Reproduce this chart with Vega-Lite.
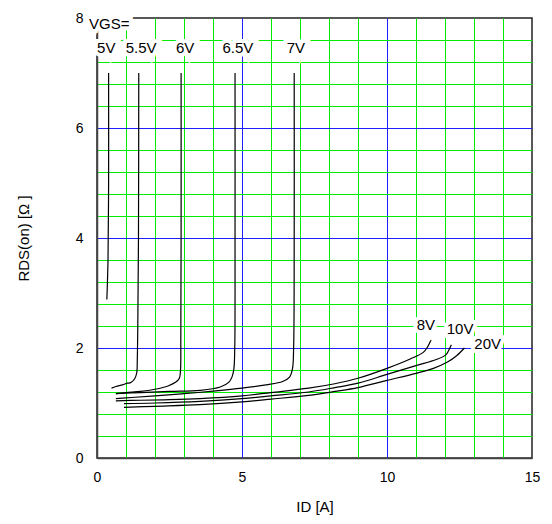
{
  "$schema": "https://vega.github.io/schema/vega-lite/v6.json",
  "width": 435,
  "height": 440,
  "autosize": "none",
  "padding": {"left": 97, "top": 18, "right": 20, "bottom": 66},
  "background": "white",
  "config": {
    "font": "Liberation Sans",
    "view": {"stroke": "#222222", "strokeWidth": 1.5},
    "axis": {
      "labelFont": "Liberation Sans",
      "titleFont": "Liberation Sans",
      "labelColor": "#000000",
      "titleColor": "#000000",
      "labelFontSize": 14,
      "titleFontSize": 15,
      "titleFontWeight": "normal",
      "domainColor": "#444444",
      "domainWidth": 1.5,
      "ticks": false,
      "grid": true,
      "gridWidth": 1,
      "tickCount": 100,
      "labelFlush": false,
      "labelOverlap": false
    }
  },
  "resolve": {"axis": {"x": "independent", "y": "independent"}},
  "datasets": {
    "curves": [
      {"g": "5V", "o": 1, "id": 0.40, "r": 7.0},
      {"g": "5V", "o": 2, "id": 0.40, "r": 5.0},
      {"g": "5V", "o": 3, "id": 0.38, "r": 3.6},
      {"g": "5V", "o": 4, "id": 0.36, "r": 3.2},
      {"g": "5V", "o": 5, "id": 0.34, "r": 2.88},

      {"g": "5.5V", "o": 1, "id": 1.44, "r": 7.0},
      {"g": "5.5V", "o": 2, "id": 1.43, "r": 4.0},
      {"g": "5.5V", "o": 3, "id": 1.41, "r": 2.6},
      {"g": "5.5V", "o": 4, "id": 1.39, "r": 1.8},
      {"g": "5.5V", "o": 5, "id": 1.37, "r": 1.55},
      {"g": "5.5V", "o": 6, "id": 1.30, "r": 1.44},
      {"g": "5.5V", "o": 7, "id": 1.16, "r": 1.37},
      {"g": "5.5V", "o": 8, "id": 1.05, "r": 1.36},
      {"g": "5.5V", "o": 9, "id": 0.88, "r": 1.33},
      {"g": "5.5V", "o": 10, "id": 0.65, "r": 1.30},
      {"g": "5.5V", "o": 11, "id": 0.50, "r": 1.27},

      {"g": "6V", "o": 1, "id": 2.90, "r": 7.0},
      {"g": "6V", "o": 2, "id": 2.90, "r": 4.0},
      {"g": "6V", "o": 3, "id": 2.89, "r": 2.2},
      {"g": "6V", "o": 4, "id": 2.88, "r": 1.6},
      {"g": "6V", "o": 5, "id": 2.84, "r": 1.45},
      {"g": "6V", "o": 6, "id": 2.72, "r": 1.38},
      {"g": "6V", "o": 7, "id": 2.45, "r": 1.31},
      {"g": "6V", "o": 8, "id": 2.0, "r": 1.25},
      {"g": "6V", "o": 9, "id": 1.5, "r": 1.21},
      {"g": "6V", "o": 10, "id": 1.0, "r": 1.19},
      {"g": "6V", "o": 11, "id": 0.65, "r": 1.17},

      {"g": "6.5V", "o": 1, "id": 4.76, "r": 7.0},
      {"g": "6.5V", "o": 2, "id": 4.76, "r": 4.0},
      {"g": "6.5V", "o": 3, "id": 4.75, "r": 2.0},
      {"g": "6.5V", "o": 4, "id": 4.72, "r": 1.62},
      {"g": "6.5V", "o": 5, "id": 4.66, "r": 1.48},
      {"g": "6.5V", "o": 6, "id": 4.55, "r": 1.38},
      {"g": "6.5V", "o": 7, "id": 4.25, "r": 1.29},
      {"g": "6.5V", "o": 8, "id": 3.55, "r": 1.23},
      {"g": "6.5V", "o": 9, "id": 2.5, "r": 1.21},
      {"g": "6.5V", "o": 10, "id": 1.5, "r": 1.19},
      {"g": "6.5V", "o": 11, "id": 0.65, "r": 1.17},

      {"g": "7V", "o": 1, "id": 6.80, "r": 7.0},
      {"g": "7V", "o": 2, "id": 6.80, "r": 4.0},
      {"g": "7V", "o": 3, "id": 6.78, "r": 2.0},
      {"g": "7V", "o": 4, "id": 6.74, "r": 1.62},
      {"g": "7V", "o": 5, "id": 6.64, "r": 1.47},
      {"g": "7V", "o": 6, "id": 6.40, "r": 1.39},
      {"g": "7V", "o": 7, "id": 5.83, "r": 1.33},
      {"g": "7V", "o": 8, "id": 5.0, "r": 1.27},
      {"g": "7V", "o": 9, "id": 4.1, "r": 1.22},
      {"g": "7V", "o": 10, "id": 3.0, "r": 1.17},
      {"g": "7V", "o": 11, "id": 2.0, "r": 1.13},
      {"g": "7V", "o": 12, "id": 1.2, "r": 1.10},
      {"g": "7V", "o": 13, "id": 0.65, "r": 1.08},

      {"g": "8V", "o": 1, "id": 0.65, "r": 1.04},
      {"g": "8V", "o": 2, "id": 1.5, "r": 1.05},
      {"g": "8V", "o": 3, "id": 2.5, "r": 1.06},
      {"g": "8V", "o": 4, "id": 3.55, "r": 1.08},
      {"g": "8V", "o": 5, "id": 5.0, "r": 1.13},
      {"g": "8V", "o": 6, "id": 6.0, "r": 1.19},
      {"g": "8V", "o": 7, "id": 7.3, "r": 1.27},
      {"g": "8V", "o": 8, "id": 8.2, "r": 1.35},
      {"g": "8V", "o": 9, "id": 9.0, "r": 1.45},
      {"g": "8V", "o": 10, "id": 10.0, "r": 1.63},
      {"g": "8V", "o": 11, "id": 10.8, "r": 1.80},
      {"g": "8V", "o": 12, "id": 11.25, "r": 1.92},
      {"g": "8V", "o": 13, "id": 11.4, "r": 2.02},
      {"g": "8V", "o": 14, "id": 11.52, "r": 2.15},

      {"g": "10V", "o": 1, "id": 0.93, "r": 0.99},
      {"g": "10V", "o": 2, "id": 2.0, "r": 1.00},
      {"g": "10V", "o": 3, "id": 3.55, "r": 1.03},
      {"g": "10V", "o": 4, "id": 5.0, "r": 1.08},
      {"g": "10V", "o": 5, "id": 6.0, "r": 1.13},
      {"g": "10V", "o": 6, "id": 7.3, "r": 1.20},
      {"g": "10V", "o": 7, "id": 8.2, "r": 1.28},
      {"g": "10V", "o": 8, "id": 9.0, "r": 1.36},
      {"g": "10V", "o": 9, "id": 10.0, "r": 1.52},
      {"g": "10V", "o": 10, "id": 11.0, "r": 1.68},
      {"g": "10V", "o": 11, "id": 11.7, "r": 1.79},
      {"g": "10V", "o": 12, "id": 12.02, "r": 1.87},
      {"g": "10V", "o": 13, "id": 12.12, "r": 1.95},
      {"g": "10V", "o": 14, "id": 12.22, "r": 2.06},

      {"g": "20V", "o": 1, "id": 0.93, "r": 0.92},
      {"g": "20V", "o": 2, "id": 2.0, "r": 0.94},
      {"g": "20V", "o": 3, "id": 3.55, "r": 0.97},
      {"g": "20V", "o": 4, "id": 5.0, "r": 1.02},
      {"g": "20V", "o": 5, "id": 6.0, "r": 1.07},
      {"g": "20V", "o": 6, "id": 7.3, "r": 1.14},
      {"g": "20V", "o": 7, "id": 8.2, "r": 1.21},
      {"g": "20V", "o": 8, "id": 9.0, "r": 1.28},
      {"g": "20V", "o": 9, "id": 10.0, "r": 1.41},
      {"g": "20V", "o": 10, "id": 11.0, "r": 1.54},
      {"g": "20V", "o": 11, "id": 11.6, "r": 1.63},
      {"g": "20V", "o": 12, "id": 12.1, "r": 1.75},
      {"g": "20V", "o": 13, "id": 12.4, "r": 1.86},
      {"g": "20V", "o": 14, "id": 12.67, "r": 2.0}
    ],
    "labels": [
      {"t": "VGS=", "id": 0.42, "r": 7.90},
      {"t": "5V", "id": 0.32, "r": 7.46},
      {"t": "5.5V", "id": 1.52, "r": 7.46},
      {"t": "6V", "id": 3.04, "r": 7.46},
      {"t": "6.5V", "id": 4.86, "r": 7.46},
      {"t": "7V", "id": 6.86, "r": 7.46},
      {"t": "8V", "id": 11.34, "r": 2.41},
      {"t": "10V", "id": 12.52, "r": 2.34},
      {"t": "20V", "id": 13.47, "r": 2.08}
    ]
  },
  "layer": [
    {
      "data": {"name": "curves"},
      "mark": {"type": "line", "color": "#000000", "strokeWidth": 1.2, "interpolate": "catmull-rom"},
      "encoding": {
        "x": {
          "field": "id",
          "type": "quantitative",
          "scale": {"domain": [0, 15], "nice": false, "zero": false},
          "axis": {
            "values": [0, 1, 2, 3, 4, 5, 6, 7, 8, 9, 10, 11, 12, 13, 14, 15],
            "labelExpr": "datum.value % 5 === 0 ? '' + datum.value : ''",
            "gridColor": {"condition": {"test": "datum.value === 5 || datum.value === 10", "value": "#2020ff"}, "value": "#00ec00"},
            "gridOpacity": {"condition": {"test": "datum.value === 0 || datum.value === 15", "value": 0}, "value": 1},
            "labelPadding": 12,
            "title": "ID [A]",
            "titleY": 48,
            "titleBaseline": "middle"
          }
        },
        "y": {
          "field": "r",
          "type": "quantitative",
          "scale": {"domain": [0, 8], "nice": false, "zero": false},
          "axis": {
            "values": [0, 0.4, 0.8, 1.2, 1.6, 2, 2.4, 2.8, 3.2, 3.6, 4, 4.4, 4.8, 5.2, 5.6, 6, 6.4, 6.8, 7.2, 7.6, 8],
            "labelExpr": "datum.value % 2 === 0 ? '' + datum.value : ''",
            "gridColor": {"condition": {"test": "datum.value === 2 || datum.value === 4 || datum.value === 6", "value": "#2020ff"}, "value": "#00ec00"},
            "gridOpacity": {"condition": {"test": "datum.value === 0 || datum.value === 8", "value": 0}, "value": 1},
            "labelPadding": 14,
            "title": "RDS(on) [Ω ]",
            "titleX": -74,
            "titleY": 220,
            "titleBaseline": "middle"
          }
        },
        "detail": {"field": "g"},
        "order": {"field": "o"}
      }
    },
    {
      "data": {"name": "labels"},
      "mark": {"type": "text", "font": "Liberation Sans", "fontSize": 15, "fill": "#ffffff", "stroke": "#ffffff", "strokeWidth": 8, "strokeJoin": "miter", "align": "center", "baseline": "middle"},
      "encoding": {
        "x": {"field": "id", "type": "quantitative", "axis": null},
        "y": {"field": "r", "type": "quantitative", "axis": null},
        "text": {"field": "t"}
      }
    },
    {
      "data": {"name": "labels"},
      "mark": {"type": "text", "font": "Liberation Sans", "fontSize": 15, "fill": "#000000", "align": "center", "baseline": "middle"},
      "encoding": {
        "x": {"field": "id", "type": "quantitative", "axis": null},
        "y": {"field": "r", "type": "quantitative", "axis": null},
        "text": {"field": "t"}
      }
    }
  ]
}
